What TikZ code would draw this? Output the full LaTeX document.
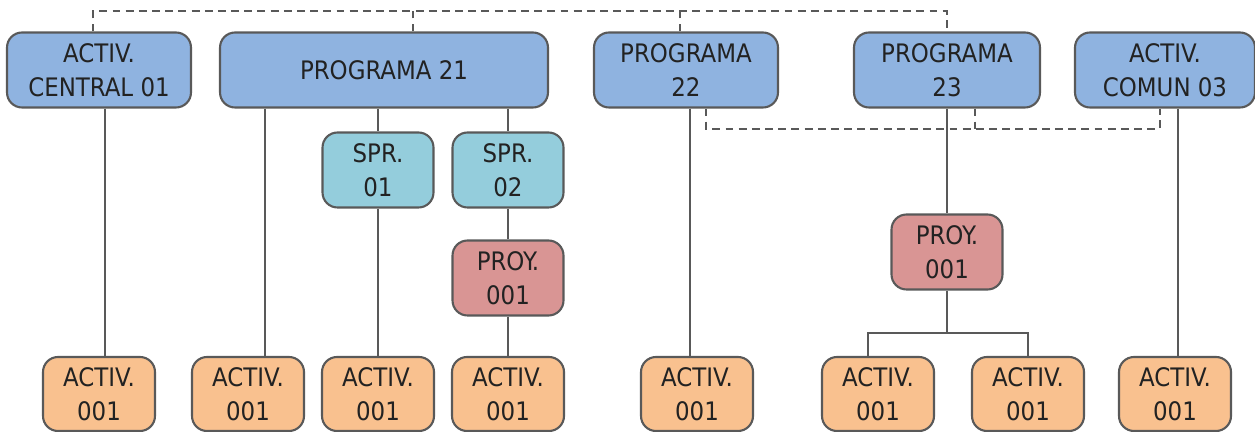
\documentclass[tikz,border=0pt]{standalone}
\usepackage{fontspec}
\setmainfont{DejaVu Sans Condensed}
\usetikzlibrary{calc}
\definecolor{progblue}{HTML}{8FB3E0}
\definecolor{sprcyan}{HTML}{94CDDC}
\definecolor{proyred}{HTML}{D99594}
\definecolor{activorange}{HTML}{F9C18F}
\definecolor{edgegray}{HTML}{595959}
\definecolor{textgray}{HTML}{222222}

\begin{document}
\begin{tikzpicture}[x=0.02cm, y=-0.02cm,
    box/.style={draw=edgegray, line width=1.2pt, rounded corners=0.3cm, align=center,
                inner sep=0pt, text=textgray, font=\fontsize{14.5}{19.3}\selectfont},
    prog/.style={box, fill=progblue, minimum width=3.68cm, minimum height=1.5cm},
    spr/.style={box, fill=sprcyan, minimum width=2.22cm, minimum height=1.5cm},
    proy/.style={box, fill=proyred, minimum width=2.22cm, minimum height=1.5cm},
    activ/.style={box, fill=activorange, minimum width=2.24cm, minimum height=1.48cm},
    link/.style={draw=edgegray, line width=1.1pt},
    dlink/.style={link, dash pattern=on 4.5pt off 3pt}]
    \useasboundingbox (0,0) rectangle (1255,432);
    % top row
    \node[prog] (AC01) at (99,70) {ACTIV.\\CENTRAL 01};
    \node[prog, minimum width=6.56cm] (P21) at (384,70) {PROGRAMA 21};
    \node[prog] (P22) at (686,70) {PROGRAMA\\22};
    \node[prog, minimum width=3.72cm] (P23) at (947,70) {PROGRAMA\\23};
    \node[prog, minimum width=3.6cm] (AC03) at (1165,70) {ACTIV.\\COMUN 03};
    % middle
    \node[spr] (SPR01) at (378,170) {SPR.\\01};
    \node[spr] (SPR02) at (508,170) {SPR.\\02};
    \node[proy] (PY21) at (508,278) {PROY.\\001};
    \node[proy] (PY23) at (947,252) {PROY.\\001};
    % bottom row
    \node[activ] (b1) at (99,394) {ACTIV.\\001};
    \node[activ] (b2) at (248,394) {ACTIV.\\001};
    \node[activ] (b3) at (378,394) {ACTIV.\\001};
    \node[activ] (b4) at (508,394) {ACTIV.\\001};
    \node[activ] (b5) at (697,394) {ACTIV.\\001};
    \node[activ] (b6) at (878,394) {ACTIV.\\001};
    \node[activ] (b7) at (1028,394) {ACTIV.\\001};
    \node[activ] (b8) at (1175,394) {ACTIV.\\001};

    % solid lines
    \coordinate (c1) at ($(b1.north)+(6,0)$);
    \draw[link] (c1 |- AC01.south) -- (c1);
    \coordinate (c2) at ($(b2.north)+(17,0)$);
    \draw[link] (c2 |- P21.south) -- (c2);
    \draw[link] (SPR01.north |- P21.south) -- (SPR01.north);
    \draw[link] (SPR01.south) -- (b3.north);
    \draw[link] (SPR02.north |- P21.south) -- (SPR02.north);
    \draw[link] (SPR02.south) -- (PY21.north);
    \draw[link] (PY21.south) -- (b4.north);
    \coordinate (c5) at ($(b5.north)+(-7,0)$);
    \draw[link] (c5 |- P22.south) -- (c5);
    \draw[link] (P23.south) -- (PY23.north);
    \draw[link] (PY23.south) -- ++(0,42) coordinate (fork);
    \draw[link] ($(b6.north)+(-10,0)$) |- (fork) -| (b7.north);
    \coordinate (c8) at ($(b8.north)+(3,0)$);
    \draw[link] (c8 |- AC03.south) -- (c8);

    % dashed lines
    \draw[dlink] ($(AC01.north)+(-6,0)$) -- ++(0,-20) -| (P23.north);
    \draw[dlink] ($(P21.north)+(29,0)$) -- ++(0,-20);
    \draw[dlink] ($(P22.north)+(-6,0)$) -- ++(0,-20);
    \draw[dlink] ($(P22.south)+(20,0)$) -- ++(0,20) -| ($(AC03.south)+(-5,0)$);
    \draw[dlink] ($(P23.south)+(28,0)$) -- ++(0,20);
\end{tikzpicture}
\end{document}
